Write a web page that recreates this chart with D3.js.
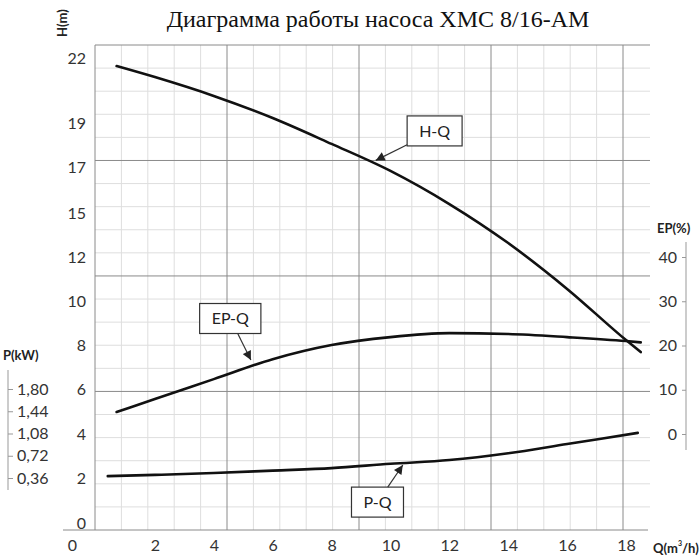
<!DOCTYPE html>
<html>
<head>
<meta charset="utf-8">
<script src="https://cdn.jsdelivr.net/npm/d3@7"></script>
<style>
  body { margin: 0; background: #fff; }
  svg { display: block; }
</style>
</head>
<body>
<svg id="chart"></svg>
<script>
const svgWidth = 700;
const svgHeight = 560;

// values
const qTicks = [0, 2, 4, 6, 8, 10, 12, 14, 16, 18];
const leftTicks = [0, 2, 4, 6, 8, 10, 12, 15, 17, 19, 22];
const epTicks = [0, 10, 20, 30, 40];
const pTicks = [0.36, 0.72, 1.08, 1.44, 1.80];

const hqFlow = [0.7, 2, 4, 6, 8, 10, 12, 14, 16, 18, 18.5];
const hqHead = [21.63, 21.12, 20.25, 19.23, 18.05, 16.83, 15.39, 12.95, 10.55, 8.24, 7.70];

const epFlow = [0.7, 2, 4, 6, 8, 10, 12, 14, 16, 18, 18.5];
const epValue = [4.97, 7.9, 12.4, 16.9, 20.1, 21.9, 22.8, 22.6, 21.9, 21.0, 20.7];

const pqFlow = [0.4, 2, 4, 6, 8, 10, 12, 14, 16, 18.4];
const pqPower = [0.39, 0.41, 0.44, 0.48, 0.52, 0.59, 0.65, 0.76, 0.91, 1.09];

// callout labels: box centre and arrow tip, in (Q, series value)
const calloutNames = ["H-Q", "EP-Q", "P-Q"];
const calloutBox = [[11.5, 18.64], [4.56, 26.1], [9.56, -0.03]];
const calloutTip = [[9.5, 17.3], [5.26, 16.7], [10.42, 0.57]];

const tickFont = "Lato, 'Liberation Sans', sans-serif";

let svg = d3.select("#chart")
  .attr("width", svgWidth)
  .attr("height", svgHeight);

svg.append("rect").attr("width", svgWidth).attr("height", svgHeight).attr("fill", "#fff");

// scales
let x = d3.scaleLinear().domain([0, 18]).range([96, 626]);
// left axis labels are unevenly spaced in the original, so a piecewise scale
let yLeft = d3.scaleLinear()
  .domain([0, 10, 12, 15, 17, 19, 22])
  .range([523, 301, 257, 213, 167, 123, 58]);
let yEp = d3.scaleLinear().domain([0, 40]).range([434, 257]);
let yP = d3.scaleLinear().domain([0.36, 1.80]).range([478, 389]);

// grid follows its own spacing
let xGrid = d3.scaleLinear().domain([0, 20]).range([95, 623]);
let yGrid = d3.scaleLinear().domain([0, 21]).range([530, 45]);
const gridRight = 650;
const majorRows = [6, 11, 16, 21];

let grid = svg.append("g");
d3.range(0, 21).forEach(i => {
  grid.append("line")
    .attr("x1", xGrid(i)).attr("x2", xGrid(i))
    .attr("y1", yGrid(21)).attr("y2", yGrid(0))
    .attr("stroke", i % 5 === 0 ? "#8a8a8a" : "#dedede")
    .attr("stroke-width", 1);
});
d3.range(1, 22).forEach(i => {
  grid.append("line")
    .attr("x1", xGrid(0)).attr("x2", gridRight)
    .attr("y1", yGrid(i)).attr("y2", yGrid(i))
    .attr("stroke", majorRows.includes(i) ? "#8a8a8a" : "#dedede")
    .attr("stroke-width", 1);
});
grid.selectAll("line").filter(function() { return this.getAttribute("stroke") === "#dedede"; }).lower();

// bottom axis
svg.append("line")
  .attr("x1", 63).attr("x2", 648)
  .attr("y1", yGrid(0)).attr("y2", yGrid(0))
  .attr("stroke", "#8a8a8a");

let xAxis = svg.append("g")
  .attr("transform", "translate(0," + yGrid(0) + ")")
  .call(d3.axisBottom(x).tickValues(qTicks).tickSize(0).tickPadding(10));
xAxis.select(".domain").remove();
xAxis.selectAll("text").filter(d => d === 0).attr("dx", -24);

let leftAxis = svg.append("g")
  .attr("transform", "translate(" + xGrid(0) + ",0)")
  .call(d3.axisLeft(yLeft).tickValues(leftTicks).tickSize(0).tickPadding(9));
leftAxis.select(".domain").remove();

// EP axis on the right
svg.append("line")
  .attr("x1", 686).attr("x2", 686).attr("y1", 242).attr("y2", 450)
  .attr("stroke", "#999");
let epAxis = svg.append("g")
  .attr("transform", "translate(686,0)")
  .call(d3.axisLeft(yEp).tickValues(epTicks).tickSize(4).tickPadding(5));
epAxis.select(".domain").remove();

// P axis on the far left
svg.append("line")
  .attr("x1", 8).attr("x2", 8).attr("y1", 370).attr("y2", 490)
  .attr("stroke", "#999");
let pAxis = svg.append("g")
  .attr("transform", "translate(8,0)")
  .call(d3.axisRight(yP).tickValues(pTicks).tickSize(5).tickPadding(4)
    .tickFormat(d => d3.format(".2f")(d).replace(".", ",")));
pAxis.select(".domain").remove();

svg.selectAll(".tick text")
  .attr("font-family", tickFont)
  .attr("font-size", 16)
  .attr("fill", "#333");
svg.selectAll(".tick line").attr("stroke", "#999");

// curves
let lineLeft = d3.line().x(d => x(d[0])).y(d => yLeft(d[1])).curve(d3.curveMonotoneX);
let lineEp = d3.line().x(d => x(d[0])).y(d => yEp(d[1])).curve(d3.curveMonotoneX);
let lineP = d3.line().x(d => x(d[0])).y(d => yP(d[1])).curve(d3.curveMonotoneX);

const curves = [
  { pts: d3.zip(hqFlow, hqHead), line: lineLeft },
  { pts: d3.zip(epFlow, epValue), line: lineEp },
  { pts: d3.zip(pqFlow, pqPower), line: lineP }
];
curves.forEach(c => {
  svg.append("path")
    .datum(c.pts)
    .attr("fill", "none")
    .attr("stroke", "#111")
    .attr("stroke-width", 2.6)
    .attr("stroke-linecap", "round")
    .attr("d", c.line);
});

// callouts
svg.append("defs").append("marker")
  .attr("id", "arrow")
  .attr("viewBox", "0 0 10 10")
  .attr("refX", 10).attr("refY", 5)
  .attr("markerWidth", 11).attr("markerHeight", 9)
  .attr("markerUnits", "userSpaceOnUse")
  .attr("orient", "auto")
  .append("path").attr("d", "M0,0 L10,5 L0,10 z").attr("fill", "#222");

const calloutScale = [yLeft, yEp, yP];
calloutNames.forEach((name, i) => {
  let ys = calloutScale[i];
  let cx = x(calloutBox[i][0]), cy = ys(calloutBox[i][1]);
  let tx = x(calloutTip[i][0]), ty = ys(calloutTip[i][1]);
  let g = svg.append("g");
  let rect = g.append("rect");
  let label = g.append("text")
    .attr("x", cx).attr("y", cy)
    .attr("dy", "0.35em")
    .attr("text-anchor", "middle")
    .attr("font-family", tickFont)
    .attr("font-size", 16)
    .attr("fill", "#222")
    .text(name);
  let w = label.node().getComputedTextLength() + 24;
  let h = 30;
  rect.attr("x", cx - w / 2).attr("y", cy - h / 2)
    .attr("width", w).attr("height", h)
    .attr("fill", "#fff").attr("stroke", "#333").attr("stroke-width", 1.2);
  // start of arrow on the box edge
  let dx = tx - cx, dy = ty - cy;
  let t = Math.min(Math.abs((w / 2) / (dx || 1e-6)), Math.abs((h / 2) / (dy || 1e-6)));
  g.append("line")
    .attr("x1", cx + dx * t).attr("y1", cy + dy * t)
    .attr("x2", tx).attr("y2", ty)
    .attr("stroke", "#333").attr("stroke-width", 1.2)
    .attr("marker-end", "url(#arrow)");
});

// titles and axis names
svg.append("text")
  .attr("x", 378).attr("y", 27)
  .attr("text-anchor", "middle")
  .attr("font-family", "'Liberation Serif', 'DejaVu Serif', serif")
  .attr("font-size", 24)
  .attr("fill", "#111")
  .text("Диаграмма работы насоса XMC 8/16-AM");

const nameFont = "Lato, 'Liberation Sans', sans-serif";
svg.append("text")
  .attr("transform", "translate(67,37) rotate(-90)")
  .attr("font-family", nameFont).attr("font-weight", "bold")
  .attr("font-size", 13).attr("fill", "#222")
  .text("H(m)");
svg.append("text")
  .attr("x", 3).attr("y", 360)
  .attr("font-family", nameFont).attr("font-weight", "bold")
  .attr("font-size", 13).attr("fill", "#222")
  .text("P(kW)");
svg.append("text")
  .attr("x", 657).attr("y", 233)
  .attr("font-family", nameFont).attr("font-weight", "bold")
  .attr("font-size", 13).attr("fill", "#222")
  .text("EP(%)");
let qName = svg.append("text")
  .attr("x", 653).attr("y", 553)
  .attr("font-family", nameFont).attr("font-weight", "bold")
  .attr("font-size", 13).attr("fill", "#222");
qName.append("tspan").text("Q(m");
qName.append("tspan").attr("font-size", 7).attr("dy", -7).text("3");
qName.append("tspan").attr("font-size", 13).attr("dy", 7).text("/h)");
</script>
</body>
</html>
